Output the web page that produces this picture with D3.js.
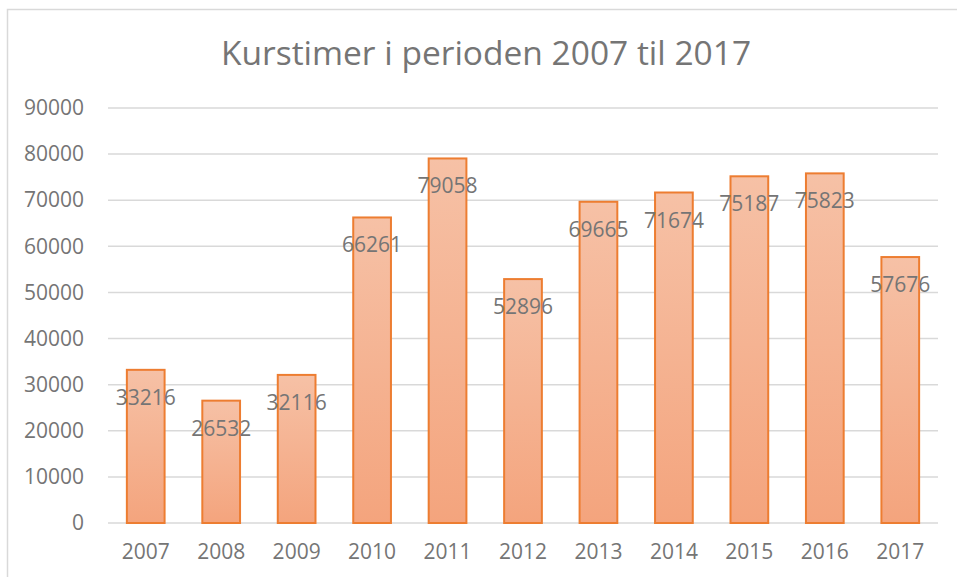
<!DOCTYPE html>
<html>
<head>
<meta charset="utf-8">
<script src="https://cdn.jsdelivr.net/npm/d3@7"></script>
<style>
  body { margin: 0; background: #fff; }
  text { font-family: "Open Sans", "Noto Sans", sans-serif; }
</style>
</head>
<body>
<div id="chart"></div>
<script>
// data
var years = ["2007", "2008", "2009", "2010", "2011", "2012", "2013", "2014", "2015", "2016", "2017"];
var hours = [33216, 26532, 32116, 66261, 79058, 52896, 69665, 71674, 75187, 75823, 57676];
var yTicks = [0, 10000, 20000, 30000, 40000, 50000, 60000, 70000, 80000, 90000];

var svgWidth = 957, svgHeight = 577;
var margin = { top: 108, right: 19, bottom: 54, left: 108 };
var width = svgWidth - margin.left - margin.right;
var height = svgHeight - margin.top - margin.bottom;

var svg = d3.select("#chart").append("svg")
  .attr("width", svgWidth)
  .attr("height", svgHeight);

// outer chart border (runs off the right and bottom)
svg.append("rect")
  .attr("x", 7.5).attr("y", 9.5)
  .attr("width", 980).attr("height", 600)
  .attr("fill", "#fff")
  .attr("stroke", "#d9d9d9")
  .attr("stroke-width", 1.5);

var grad = svg.append("defs").append("linearGradient")
  .attr("id", "barFill")
  .attr("x1", 0).attr("y1", 0).attr("x2", 0).attr("y2", 1);
grad.append("stop").attr("offset", "0%").attr("stop-color", "#f6c1a6");
grad.append("stop").attr("offset", "100%").attr("stop-color", "#f4a47d");

svg.append("text")
  .attr("x", 486).attr("y", 65)
  .attr("text-anchor", "middle")
  .attr("fill", "#757575")
  .style("font-size", "33.5px")
  .text("Kurstimer i perioden 2007 til 2017");

var chartGroup = svg.append("g")
  .attr("transform", `translate(${margin.left}, ${margin.top})`);

var x = d3.scaleBand().domain(years).range([0, width]).paddingInner(0.5).paddingOuter(0.25);
var y = d3.scaleLinear().domain([0, 90000]).range([height, 0]);

// gridlines
chartGroup.append("g")
  .selectAll("line")
  .data(yTicks)
  .enter()
  .append("line")
  .attr("x1", 0).attr("x2", width)
  .attr("y1", d => y(d)).attr("y2", d => y(d))
  .attr("stroke", "#d9d9d9")
  .attr("stroke-width", 1.5);

// y axis labels
var leftAxis = d3.axisLeft(y).tickValues(yTicks).tickSize(0).tickPadding(24).tickFormat(d3.format("d"));
var yAxis = chartGroup.append("g").call(leftAxis);
yAxis.select(".domain").remove();
yAxis.selectAll("text").attr("fill", "#757575").style("font-size", "21px");

// x axis labels
var bottomAxis = d3.axisBottom(x).tickSize(0).tickPadding(21);
var xAxis = chartGroup.append("g")
  .attr("transform", `translate(0, ${height})`)
  .call(bottomAxis);
xAxis.select(".domain").remove();
xAxis.selectAll("text").attr("fill", "#757575").style("font-size", "21px");

// bars
chartGroup.selectAll("rect.bar")
  .data(hours)
  .enter()
  .append("rect")
  .attr("class", "bar")
  .attr("x", (d, i) => x(years[i]))
  .attr("y", d => y(d))
  .attr("width", x.bandwidth())
  .attr("height", d => height - y(d))
  .attr("fill", "url(#barFill)")
  .attr("stroke", "#ed7d31")
  .attr("stroke-width", 2);

// data labels just inside the bar tops
chartGroup.selectAll("text.val")
  .data(hours)
  .enter()
  .append("text")
  .attr("class", "val")
  .attr("x", (d, i) => x(years[i]) + x.bandwidth() / 2)
  .attr("y", d => y(d) + 35)
  .attr("text-anchor", "middle")
  .attr("fill", "#757575")
  .style("font-size", "21px")
  .text(d => d);
</script>
</body>
</html>
